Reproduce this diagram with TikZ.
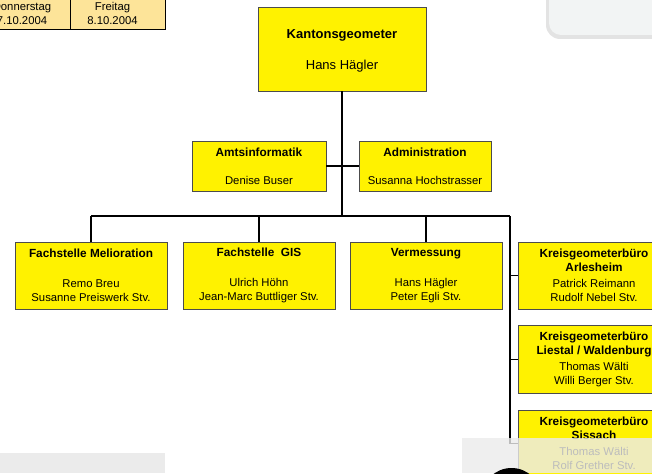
\documentclass[tikz,border=0pt]{standalone}
\usepackage{fontspec}
\setmainfont{Liberation Sans}
\definecolor{daycell}{RGB}{253,228,153}
\definecolor{panelfill}{RGB}{242,244,244}
\definecolor{veil}{RGB}{235,235,235}
\newcommand{\boxtitle}[1]{{\fontsize{11.8}{14}\selectfont\bfseries #1}}
\begin{document}
\begin{tikzpicture}[x=1pt,y=-1pt,
  orgbox/.style={draw=black!70, line width=0.8pt, fill=yellow, inner sep=0pt,
    align=center, font=\fontsize{11.3}{14}\selectfont},
  daybox/.style={draw=black, line width=0.8pt, fill=daycell, inner sep=0pt,
    align=center, font=\fontsize{11.3}{13.5}\selectfont},
  link/.style={line width=1.8pt, black, line join=miter},
]
\useasboundingbox (0,0) rectangle (652,473);
\clip (0,0) rectangle (652,473);

% calendar cells in the upper left corner
\node[daybox, minimum width=96, minimum height=31] (thu) at (22,13.5)
  {Donnerstag\\7.10.2004};
\node[daybox, minimum width=95, minimum height=31] (fri) at (117.5,13.5)
  {Freitag\hspace*{10pt}\\8.10.2004\hspace*{10pt}};

% rounded panel in the upper right corner
\fill[gray!22, rounded corners=14pt] (546,-30) rectangle (690,39);
\fill[panelfill, rounded corners=12pt] (549,-30) rectangle (690,35);

% organisation boxes
\node[orgbox, minimum width=168, minimum height=84, font=\fontsize{13}{15}\selectfont]
  (kg) at (342,49) {\rule{0pt}{13.5pt}\textbf{Kantonsgeometer}\\[16pt]Hans Hägler};

\node[orgbox, minimum width=134, minimum height=50] (amt) at (259,166)
  {\boxtitle{Amtsinformatik}\\[14pt]Denise Buser};
\node[orgbox, minimum width=132, minimum height=50] (adm) at (425,166)
  {\boxtitle{Administration}\\[14pt]Susanna Hochstrasser};

\node[orgbox, minimum width=152, minimum height=67] (mel) at (91,275.5)
  {\boxtitle{Fachstelle Melioration}\\[16pt]Remo Breu\\Susanne Preiswerk Stv.};
\node[orgbox, minimum width=152, minimum height=67] (gis) at (259,275.5)
  {\boxtitle{Fachstelle\ \ GIS}\\[16pt]Ulrich Höhn\\Jean-Marc Buttliger Stv.};
\node[orgbox, minimum width=152, minimum height=67] (verm) at (426,275.5)
  {\boxtitle{Vermessung}\\[16pt]Hans Hägler\\Peter Egli Stv.};

\node[orgbox, minimum width=152, minimum height=67] (arl) at (594,275.5)
  {\boxtitle{Kreisgeometerbüro}\\\boxtitle{Arlesheim}\\[2pt]Patrick Reimann\\Rudolf Nebel Stv.};
\node[orgbox, minimum width=152, minimum height=68] (lie) at (594,359.5)
  {\boxtitle{Kreisgeometerbüro}\\\boxtitle{Liestal / Waldenburg}\\[2pt]Thomas Wälti\\Willi Berger Stv.};
\node[orgbox, minimum width=152, minimum height=67] (sis) at (594,443.5)
  {\boxtitle{Kreisgeometerbüro}\\\boxtitle{Sissach}\\[2pt]Thomas Wälti\\Rolf Grether Stv.};

% connectors
\coordinate (trunk) at (342,216);
\coordinate (busL) at (mel.north |- trunk);
\coordinate (busR) at (510,216);
\draw[link] (kg.south) -- (trunk);
\draw[link] (amt.east) -- (adm.west);
\draw[link] (busL) -- (busR);
\draw[link] (busL) -- (mel.north);
\draw[link] (gis.north |- trunk) -- (gis.north);
\draw[link] (verm.north |- trunk) -- (verm.north);
\draw[link] (busR) |- (arl.west);
\draw[link] (busR) |- (lie.west);
\draw[link] (busR) |- (sis.west);

% translucent bars along the bottom edge
\fill[veil] (0,453) rectangle (165,473);
\fill[veil, fill opacity=0.8] (462,438) rectangle (652,473);
\fill[black] (511.5,498) circle (30);
\end{tikzpicture}
\end{document}
